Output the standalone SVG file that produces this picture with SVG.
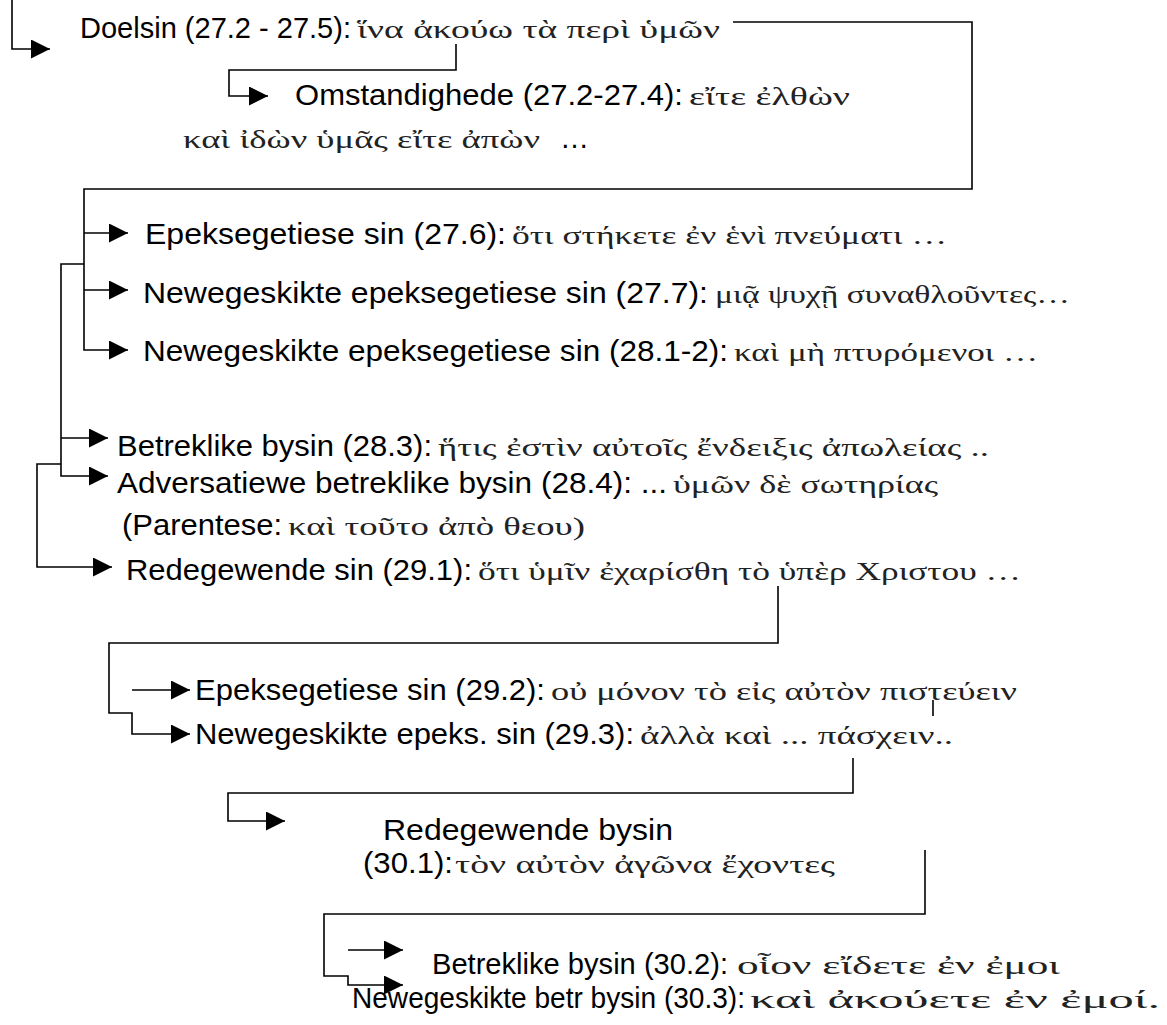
<svg xmlns="http://www.w3.org/2000/svg" width="1167" height="1025" viewBox="0 0 1167 1025">
<style>
.lat{font-family:"Liberation Sans",Arial,sans-serif;font-size:29px;fill:#000}
.grk{font-family:"Liberation Serif","DejaVu Serif",serif;font-size:26px;fill:#222}
.ln{fill:none;stroke:#000;stroke-width:1.6}
.arr{marker-end:url(#ah)}
</style>
<defs>
<marker id="ah" viewBox="0 0 10 10" refX="10" refY="5" markerWidth="19" markerHeight="19" markerUnits="userSpaceOnUse" orient="auto"><path d="M0,0 L10,5 L0,10 z" fill="#000"/></marker>
</defs>
<rect width="1167" height="1025" fill="#fff"/>
<g id="connectors">
<path class="ln arr" d="M12,0 V49 H50"/>
<path class="ln arr" d="M456,44 V70 H229 V96 H268"/>
<path class="ln arr" d="M733,22 H972 V189 H84 V350 H128"/>
<path class="ln arr" d="M84,233 H128"/>
<path class="ln arr" d="M84,290 H128"/>
<path class="ln arr" d="M84,264 H61 V476 H108"/>
<path class="ln arr" d="M61,438 H108"/>
<path class="ln arr" d="M61,464 H37 V567 H112"/>
<path class="ln arr" d="M778,586 V643 H109 V713 H132 V734 H190"/>
<path class="ln arr" d="M132,690 H190"/>
<path class="ln" d="M933,700 V716"/>
<path class="ln arr" d="M853,758 V793 H228 V821 H285"/>
<path class="ln arr" d="M925,850 V914 H324 V976 H348 V985 H403"/>
<path class="ln arr" d="M348,950 H403"/>
</g>
<g id="n-doelsin">
<text class="lat" x="80" y="38" textLength="271" lengthAdjust="spacingAndGlyphs">Doelsin (27.2 - 27.5):</text>
<text class="grk" x="357" y="38" textLength="363" lengthAdjust="spacingAndGlyphs">ἵνα ἀκούω τὰ περὶ ὑμῶν</text>
</g>
<g id="n-omstandighede">
<text class="lat" x="295" y="105" textLength="388" lengthAdjust="spacingAndGlyphs">Omstandighede (27.2-27.4):</text>
<text class="grk" x="689" y="105" textLength="161" lengthAdjust="spacingAndGlyphs">εἴτε ἐλθὼν</text>
<text class="grk" x="183" y="148" textLength="357" lengthAdjust="spacingAndGlyphs">καὶ ἰδὼν ὑμᾶς εἴτε ἀπὼν</text>
<text class="lat" x="560" y="148">…</text>
</g>
<g id="n-epeks-27-6">
<text class="lat" x="145" y="244" textLength="361" lengthAdjust="spacingAndGlyphs">Epeksegetiese sin (27.6):</text>
<text class="grk" x="512" y="244" textLength="435" lengthAdjust="spacingAndGlyphs">ὅτι στήκετε ἐν ἑνὶ πνεύματι …</text>
</g>
<g id="n-epeks-27-7">
<text class="lat" x="143" y="303" textLength="565" lengthAdjust="spacingAndGlyphs">Newegeskikte epeksegetiese sin (27.7):</text>
<text class="grk" x="715" y="303" textLength="355" lengthAdjust="spacingAndGlyphs">μιᾷ ψυχῇ συναθλοῦντες…</text>
</g>
<g id="n-epeks-28-1">
<text class="lat" x="143" y="361" textLength="585" lengthAdjust="spacingAndGlyphs">Newegeskikte epeksegetiese sin (28.1-2):</text>
<text class="grk" x="734" y="361" textLength="304" lengthAdjust="spacingAndGlyphs">καὶ μὴ πτυρόμενοι …</text>
</g>
<g id="n-betreklike-28-3">
<text class="lat" x="117" y="456" textLength="315" lengthAdjust="spacingAndGlyphs">Betreklike bysin (28.3):</text>
<text class="grk" x="438" y="456" textLength="551" lengthAdjust="spacingAndGlyphs">ἥτις ἐστὶν αὐτοῖς ἔνδειξις ἀπωλείας ..</text>
</g>
<g id="n-adversatiewe-28-4">
<text class="lat" x="117" y="493" textLength="550" lengthAdjust="spacingAndGlyphs">Adversatiewe betreklike bysin (28.4): ...</text>
<text class="grk" x="673" y="493" textLength="265" lengthAdjust="spacingAndGlyphs">ὑμῶν δὲ σωτηρίας</text>
</g>
<g id="n-parentese">
<text class="lat" x="122" y="535" textLength="160" lengthAdjust="spacingAndGlyphs">(Parentese:</text>
<text class="grk" x="288" y="535" textLength="297" lengthAdjust="spacingAndGlyphs">καὶ τοῦτο ἀπὸ θεου)</text>
</g>
<g id="n-redegewende-29-1">
<text class="lat" x="126" y="580" textLength="346" lengthAdjust="spacingAndGlyphs">Redegewende sin (29.1):</text>
<text class="grk" x="478" y="580" textLength="543" lengthAdjust="spacingAndGlyphs">ὅτι ὑμῖν ἐχαρίσθη τὸ ὑπὲρ Χριστου …</text>
</g>
<g id="n-epeks-29-2">
<text class="lat" x="195" y="700" textLength="350" lengthAdjust="spacingAndGlyphs">Epeksegetiese sin (29.2):</text>
<text class="grk" x="551" y="700" textLength="466" lengthAdjust="spacingAndGlyphs">οὐ μόνον τὸ εἰς αὐτὸν πιστεύειν</text>
</g>
<g id="n-epeks-29-3">
<text class="lat" x="195" y="744" textLength="439" lengthAdjust="spacingAndGlyphs">Newegeskikte epeks. sin (29.3):</text>
<text class="grk" x="640" y="744" textLength="313" lengthAdjust="spacingAndGlyphs">ἀλλὰ καὶ ... πάσχειν..</text>
</g>
<g id="n-redegewende-30-1">
<text class="lat" x="383" y="840" textLength="290" lengthAdjust="spacingAndGlyphs">Redegewende bysin</text>
<text class="lat" x="363" y="873" textLength="90" lengthAdjust="spacingAndGlyphs">(30.1):</text>
<text class="grk" x="455" y="873" textLength="380" lengthAdjust="spacingAndGlyphs">τὸν αὐτὸν ἀγῶνα ἔχοντες</text>
</g>
<g id="n-betreklike-30-2">
<text class="lat" x="432" y="974" textLength="296" lengthAdjust="spacingAndGlyphs">Betreklike bysin (30.2):</text>
<text class="grk" x="737" y="974" textLength="323" lengthAdjust="spacingAndGlyphs">οἷον εἴδετε ἐν ἐμοι</text>
</g>
<g id="n-betr-30-3">
<text class="lat" x="352" y="1008" textLength="393" lengthAdjust="spacingAndGlyphs">Newegeskikte betr bysin (30.3):</text>
<text class="grk" x="750" y="1008" textLength="410" lengthAdjust="spacingAndGlyphs">καὶ ἀκούετε ἐν ἐμοί.</text>
</g>
</svg>
